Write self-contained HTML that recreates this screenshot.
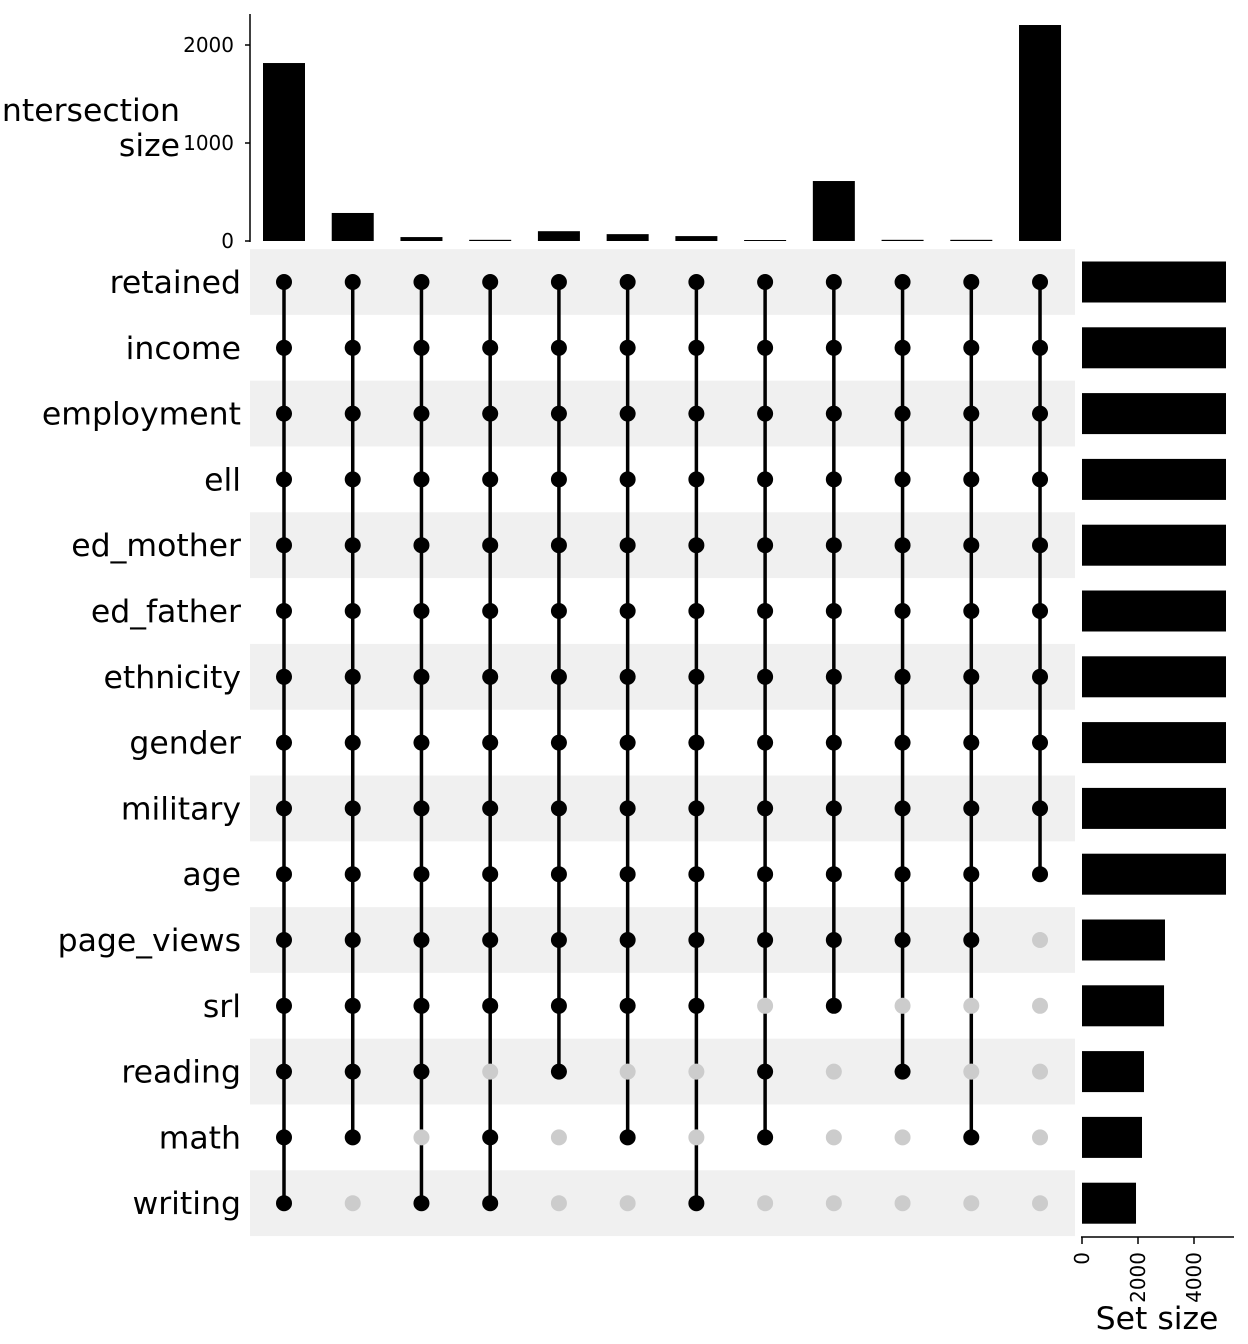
<!DOCTYPE html>
<html><head><meta charset="utf-8"><style>
html,body{margin:0;padding:0;background:#fff;}
svg{display:block;font-family:"DejaVu Sans","Liberation Sans",sans-serif;}
</style></head><body>
<svg id="chart" width="1248" height="1344" xmlns="http://www.w3.org/2000/svg"></svg>
<script>
const sets = ["retained","income","employment","ell","ed_mother","ed_father","ethnicity","gender","military","age","page_views","srl","reading","math","writing"];
const setSizes = [5143,5143,5143,5143,5143,5143,5143,5143,5143,5143,2964,2930,2214,2143,1929];
const intersectionSizes = [1816,286,40,12,100,70,50,10,612,12,12,2204];
// membership of bottom 5 sets per intersection: page_views, srl, reading, math, writing
const lowerMembership = [
 [1,1,1,1,1],[1,1,1,1,0],[1,1,1,0,1],[1,1,0,1,1],[1,1,1,0,0],[1,1,0,1,0],
 [1,1,0,0,1],[1,0,1,1,0],[1,1,0,0,0],[1,0,1,0,0],[1,0,0,1,0],[0,0,0,0,0]];
const lastAge = [1,1,1,1,1,1,1,1,1,1,1,1];
const topTicks = [0,1000,2000];
const sideTicks = [0,2000,4000];

const NS="http://www.w3.org/2000/svg";
const svg=document.getElementById('chart');
function el(tag,attrs,parent){const e=document.createElementNS(NS,tag);for(const k in attrs)e.setAttribute(k,attrs[k]);(parent||svg).appendChild(e);return e;}

const colX=i=>284+i*68.73;
const rowY=j=>282+j*65.8;
const yTop=v=>241-v*0.098;
const xSide=v=>1082+v*0.028;

for(let j=0;j<sets.length;j+=2){
  const b=el('rect',{x:250,y:rowY(j)-32.9,width:825,height:65.8,fill:'#f0f0f0'});
  
  
}
intersectionSizes.forEach((v,i)=>{
  const r=el('rect',{x:colX(i)-21,y:yTop(v),width:42,height:241-yTop(v),fill:'#000'});
  
  
});
const ax=el('line',{x1:250,y1:14,x2:250,y2:242,stroke:'#000','stroke-width':1.5});


topTicks.forEach(t=>{
  el('line',{x1:245,y1:yTop(t),x2:250,y2:yTop(t),stroke:'#000','stroke-width':1.5});
  const tx=el('text',{x:234,y:yTop(t)+7,'text-anchor':'end','font-size':20});
  tx.textContent=t;
  
  
});
const yt=el('text',{x:180,y:121,'text-anchor':'end','font-size':31.5});
yt.textContent='Intersection';


const yt2=el('text',{x:180,y:156,'text-anchor':'end','font-size':31.5});
yt2.textContent='size';



sets.forEach((s,j)=>{
  const t=el('text',{x:241,y:rowY(j)+11,'text-anchor':'end','font-size':31.5});
  t.textContent=s;
  
  
});

intersectionSizes.forEach((v,i)=>{
  const mem=[];
  for(let j=0;j<10;j++) mem.push(lastAge[i]);
  lowerMembership[i].forEach(m=>mem.push(m));
  const idx=mem.map((m,j)=>m?j:-1).filter(j=>j>=0);
  if(idx.length>1){
    const l=el('line',{x1:colX(i),y1:rowY(idx[0]),x2:colX(i),y2:rowY(idx[idx.length-1]),stroke:'#000','stroke-width':3.5});
    
    
  }
  mem.forEach((m,j)=>{
    const c=el('circle',{cx:colX(i),cy:rowY(j),r:8,fill:m?'#000':'#cccccc'});
    
    
  });
});

setSizes.forEach((v,j)=>{
  const r=el('rect',{x:1082,y:rowY(j)-20.5,width:xSide(v)-1082,height:41,fill:'#000'});
  
  
});
const sax=el('line',{x1:1081,y1:1237,x2:1234,y2:1237,stroke:'#000','stroke-width':1.5});


sideTicks.forEach(t=>{
  el('line',{x1:xSide(t),y1:1237,x2:xSide(t),y2:1244,stroke:'#000','stroke-width':1.5});
  const tx=el('text',{x:0,y:0,'text-anchor':'end','font-size':20,transform:`translate(${xSide(t)+7},1252) rotate(-90)`});
  tx.textContent=t;
  
  
});
const st=el('text',{x:1157,y:1329,'text-anchor':'middle','font-size':31.5});
st.textContent='Set size';


</script>
</body></html>
